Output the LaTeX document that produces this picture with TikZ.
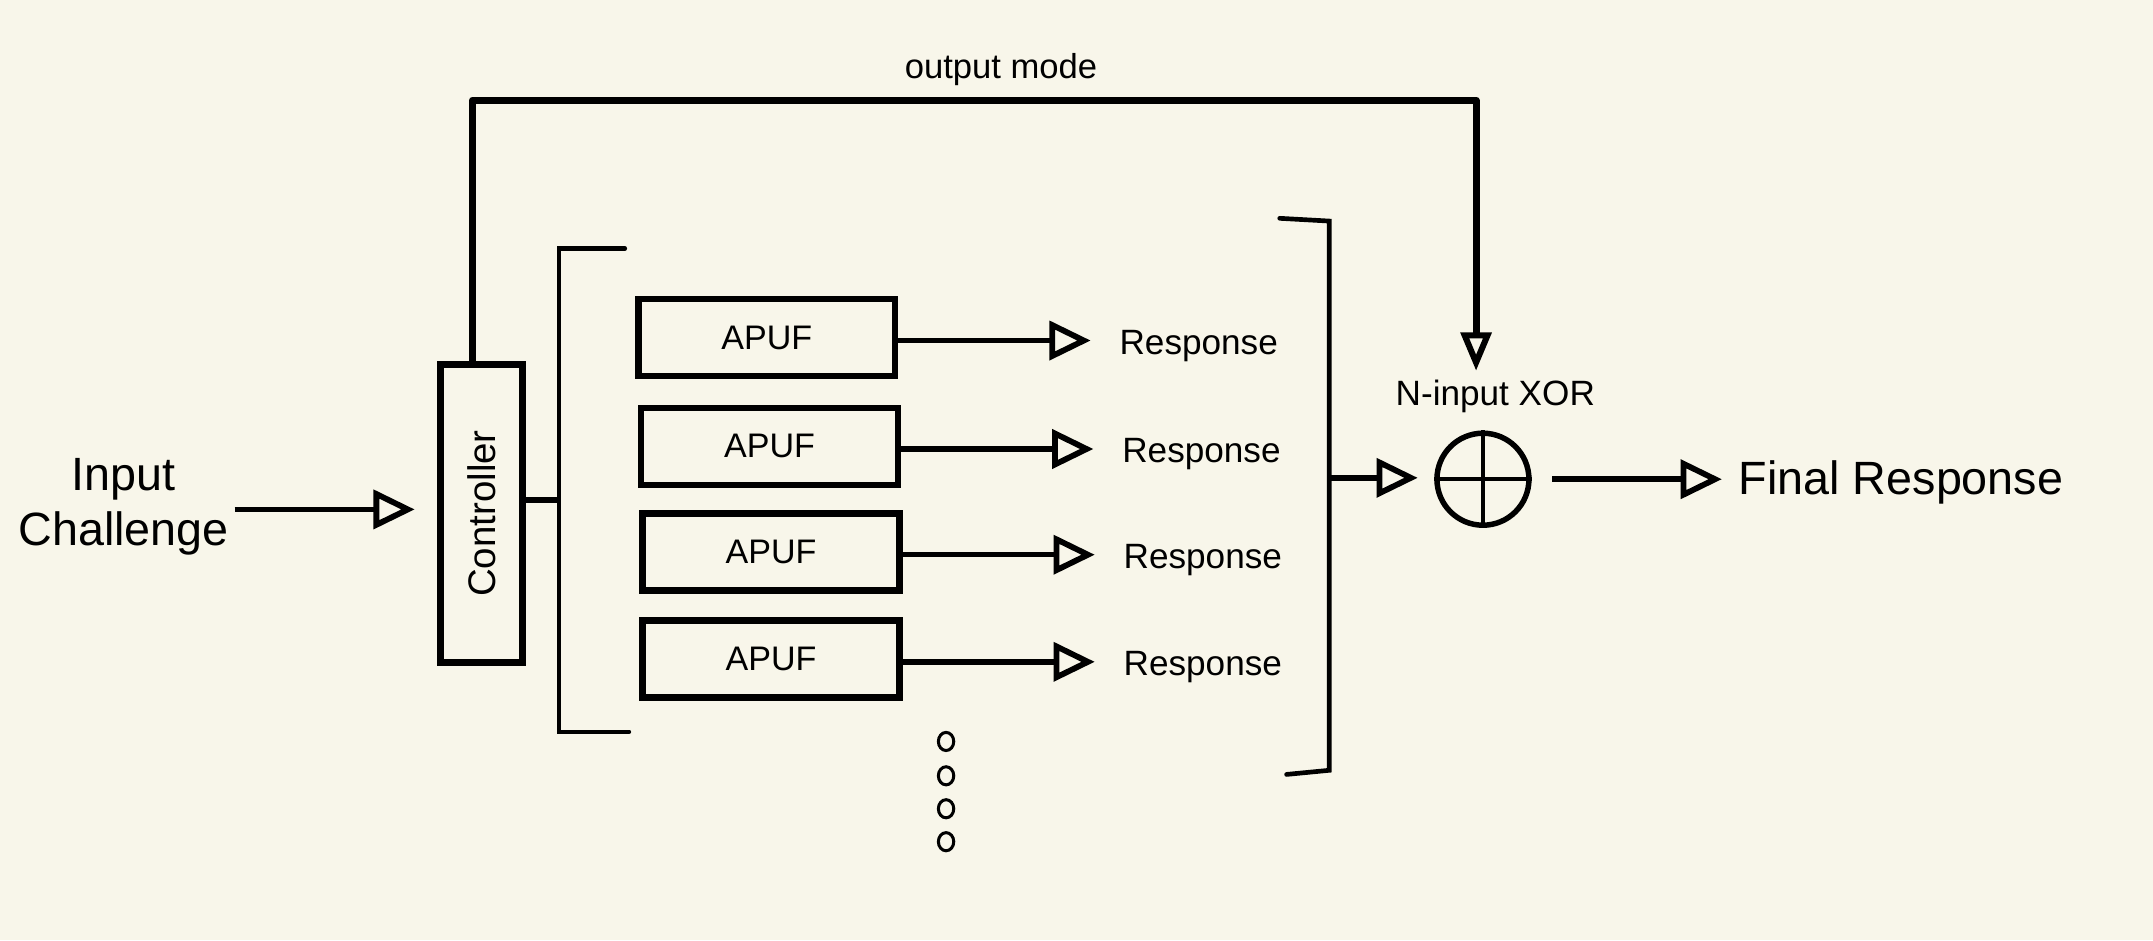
\documentclass[tikz,border=0pt]{standalone}
\usepackage{fontspec}
\usepackage{graphicx}
\setmainfont{Liberation Sans}
\usetikzlibrary{arrows.meta,positioning}
\definecolor{paper}{RGB}{248,246,234}

\begin{document}
\begin{tikzpicture}[x=0.5pt, y=-0.5pt,
        blk/.style={draw, line width=2.3pt, minimum width=93.5pt, minimum height=28pt, inner sep=0pt, font=\fontsize{12.4}{14}\selectfont},
        lbl/.style={font=\fontsize{12.8}{15}\selectfont},
        big/.style={font=\fontsize{17}{20}\selectfont, align=center, inner sep=2pt},
        wire/.style={line width=2pt},
        bracket/.style={line width=1.7pt, line cap=round},
        tip/.style={-{Triangle[open, length=15pt, width=14pt, line width=2.1pt]}}]
    \fill[paper] (0, 0) rectangle (1568, 684.6);
    \useasboundingbox (0, 0) rectangle (1568, 684.6);

    % controller and inputs
    \node[draw, line width=2.5pt, minimum width=30pt, minimum height=108.5pt, inner sep=0pt] (ctrl) at (350.5, 374)
        {\fontsize{14}{16}\selectfont\rotatebox{90}{Controller}};
    \node[big] (input) at (90, 369) {Input\\Challenge};
    \draw[wire, tip, shorten >=8pt] ([yshift=-1pt]input.east) -- ([yshift=-1pt]input.east -| ctrl.west);

    % fan out to the APUFs
    \coordinate (lb) at (407, 364);
    \draw[bracket] (455, 181) -| (407, 533) -- (458, 533);
    \draw[wire] (ctrl.east |- lb) -- (lb);
    \foreach \i/\bx/\by in {1/558.5/246, 2/560.5/325, 3/561.5/402, 4/561.5/480} {
        \node[blk] (apuf\i) at (\bx, \by) {\raisebox{-1pt}{APUF}};
        \node[lbl, right=77pt of apuf\i, yshift=-3pt] (resp\i) {Response};
        \draw[wire, tip, shorten >=7pt] ([yshift=-1pt]apuf\i.east) -- ([yshift=-1pt]apuf\i.east -| resp\i.west);
    }
    \foreach \y in {540, 565, 589, 613}
        \draw[line width=1.1pt] (689, \y) ellipse (2.8pt and 3.3pt);

    % XOR stage
    \coordinate (rb) at (968, 348);
    \draw[bracket] (932, 159) -- (968, 161) -- (968, 561) -- (937, 564);
    \node[draw, circle, line width=2pt, minimum size=33.5pt, inner sep=0pt] (xor) at (1080, 349) {};
    \draw[line width=1.6pt] (xor.north) -- (xor.south) (xor.west) -- (xor.east);
    \node[lbl] (nx) at (1089, 289) {N-input XOR};
    \draw[wire, tip, shorten >=6pt] (rb) -- (rb -| xor.west);
    \node[big, anchor=west] (final) at (1262, 351) {Final Response};
    \draw[wire, tip, shorten <=7.5pt, shorten >=4pt] (xor.east) -- (xor.east -| final.west);

    % output mode feedback
    \node[font=\fontsize{12.6}{15}\selectfont] (mode) at (729, 51) {output mode};
    \coordinate (om) at (1075, 73);
    \draw[line width=2.5pt, line join=round, -{Triangle[open, length=14pt, width=11pt, line width=2.2pt]}]
        ([xshift=-3.25pt]ctrl.north) |- (om) -- (om |- nx.north);
\end{tikzpicture}
\end{document}
